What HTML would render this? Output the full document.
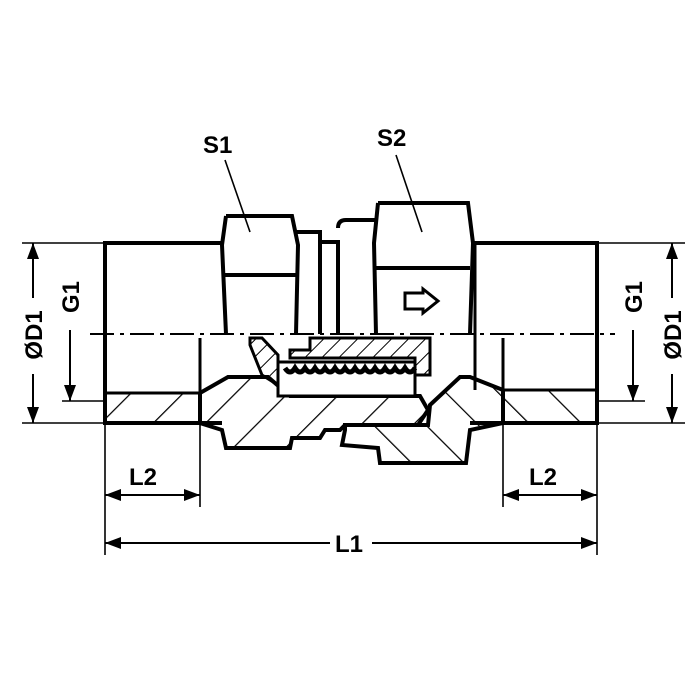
<!DOCTYPE html>
<html><head><style>body{margin:0;background:#fff}svg{display:block}</style></head>
<body>
<svg width="700" height="700" viewBox="0 0 700 700" xmlns="http://www.w3.org/2000/svg" font-family="Liberation Sans, sans-serif" font-weight="bold">
<defs>
<pattern id="h" patternUnits="userSpaceOnUse" width="37" height="37" patternTransform="rotate(45)">
<line x1="0" y1="0" x2="0" y2="37" stroke="#000" stroke-width="2.5"/>
</pattern>
<pattern id="h2" patternUnits="userSpaceOnUse" width="37" height="37" patternTransform="rotate(-45)">
<line x1="0" y1="0" x2="0" y2="37" stroke="#000" stroke-width="2.5"/>
</pattern>
<pattern id="h3" patternUnits="userSpaceOnUse" width="12" height="12" patternTransform="rotate(45)">
<line x1="0" y1="0" x2="0" y2="12" stroke="#000" stroke-width="2"/>
</pattern>
<marker id="a" viewBox="0 0 16 12" refX="16" refY="6" markerWidth="16" markerHeight="12" markerUnits="userSpaceOnUse" orient="auto-start-reverse"><path d="M0 0 L16 6 L0 12z"/></marker>
</defs>
<g stroke="#000" fill="none">
<!-- left pipe -->
<path d="M222 243 L105 243 L105 423 L222 423" stroke-width="4"/>
<rect x="105" y="393" width="95" height="30" fill="url(#h)" stroke-width="3"/>
<line x1="200" y1="338" x2="200" y2="423" stroke-width="3"/>
<!-- right pipe -->
<path d="M473 243 L597 243 L597 423 L470 423" stroke-width="4"/>
<rect x="503" y="390" width="94" height="33" fill="url(#h2)" stroke-width="3"/>
<line x1="503" y1="338" x2="503" y2="423" stroke-width="3"/>
<line x1="475" y1="243" x2="475" y2="390" stroke-width="3"/>
<!-- S1 hex -->
<path d="M226 216 L292 216 L298 245 L296 334 M226 216 L222 245 L226 334 M223 275 L296 275" stroke-width="4"/>
<path d="M296 232 L320 232 L320 242 L338 242 L338 334 M320 242 L320 334" stroke-width="4"/>
<path d="M338 228 Q338 220 346 220 L375 220" stroke-width="4"/>
<!-- S2 hex -->
<path d="M378 203 L468 203 L473 243 L470 334 M378 203 L374 243 L376 334 M376 268 L470 268" stroke-width="4"/>
<!-- arrow -->
<path d="M405 293 L423 293 L423 289 L438 301 L423 313 L423 309 L405 309z" stroke-width="3" fill="#fff"/>
<!-- centerline -->
<line x1="90" y1="334" x2="615" y2="334" stroke-width="2" stroke-dasharray="24,6,4,6"/>
<!-- left body section -->
<path d="M200 393 L228 377 L268 377 L290 396 L420 396 L428 410 L418 425 L345 425 L340 430 L325 430 L320 438 L292 438 L290 448 L226 448 L222 430 L200 423z" fill="url(#h)" stroke-width="4"/>
<!-- right body section -->
<path d="M345 430 L342 445 L378 448 L380 463 L466 463 L470 430 L503 423 L503 390 L470 377 L460 377 L430 405 L428 425 L345 425z" fill="url(#h2)" stroke-width="4"/>
<!-- valve sleeve -->
<path d="M310 338 L430 338 L430 375 L415 375 L415 358 L290 358 L290 350 L310 350z" fill="url(#h3)" stroke-width="3"/>
<path d="M250 338 L262 338 L278 355 L278 385 L262 375 L250 345z" fill="url(#h3)" stroke-width="3"/>
<rect x="278" y="362" width="137" height="34" fill="#fff" stroke-width="3"/>
<path d="M285 368 q5 8 10 0 q5 8 10 0 q5 8 10 0 q5 8 10 0 q5 8 10 0 q5 8 10 0 q5 8 10 0 q5 8 10 0 q5 8 10 0 q5 8 10 0 q5 8 10 0 q5 8 10 0 q5 8 10 0" stroke-width="5"/>
<!-- dims -->
<g stroke-width="1.6">
<line x1="22" y1="243" x2="105" y2="243"/><line x1="22" y1="423" x2="105" y2="423"/>
<line x1="62" y1="401" x2="105" y2="401"/>
<line x1="597" y1="243" x2="685" y2="243"/><line x1="597" y1="423" x2="685" y2="423"/>
<line x1="597" y1="401" x2="645" y2="401"/>
<line x1="105" y1="423" x2="105" y2="555"/><line x1="200" y1="423" x2="200" y2="507"/>
<line x1="597" y1="423" x2="597" y2="555"/><line x1="503" y1="423" x2="503" y2="507"/>
<line x1="33" y1="298" x2="33" y2="243" marker-end="url(#a)" stroke-width="2"/>
<line x1="33" y1="374" x2="33" y2="423" marker-end="url(#a)" stroke-width="2"/>
<line x1="70" y1="330" x2="70" y2="401" marker-end="url(#a)" stroke-width="2"/>
<line x1="672" y1="298" x2="672" y2="243" marker-end="url(#a)" stroke-width="2"/>
<line x1="672" y1="374" x2="672" y2="423" marker-end="url(#a)" stroke-width="2"/>
<line x1="633" y1="330" x2="633" y2="401" marker-end="url(#a)" stroke-width="2"/>
<line x1="105" y1="495" x2="200" y2="495" marker-start="url(#a)" marker-end="url(#a)" stroke-width="2"/>
<line x1="503" y1="495" x2="597" y2="495" marker-start="url(#a)" marker-end="url(#a)" stroke-width="2"/>
<line x1="105" y1="543" x2="330" y2="543" marker-start="url(#a)" stroke-width="2"/>
<line x1="372" y1="543" x2="597" y2="543" marker-end="url(#a)" stroke-width="2"/>
<line x1="225" y1="160" x2="250" y2="232"/>
<line x1="396" y1="155" x2="422" y2="232"/>
</g>
</g>
<g font-size="24" fill="#000">
<text x="203" y="153">S1</text>
<text x="377" y="146">S2</text>
<text x="129" y="485">L2</text>
<text x="529" y="485">L2</text>
<text x="335" y="552">L1</text>
<text transform="translate(42,335) rotate(-90)" text-anchor="middle">ØD1</text>
<text transform="translate(79,297) rotate(-90)" text-anchor="middle">G1</text>
<text transform="translate(681,335) rotate(-90)" text-anchor="middle">ØD1</text>
<text transform="translate(642,297) rotate(-90)" text-anchor="middle">G1</text>
</g>
</svg>
</body></html>
